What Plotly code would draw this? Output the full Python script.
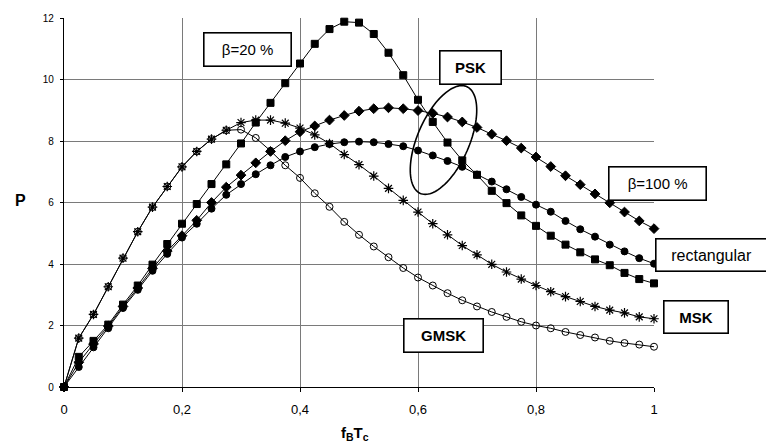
import numpy as np
import plotly.graph_objects as go

# ---------------- data ----------------
x_vals = [round(i * 0.025, 3) for i in range(41)]

psk_beta20 = [0, 0.98, 1.5, 2.03, 2.68, 3.3, 3.98, 4.65, 5.31, 5.95, 6.6, 7.24, 7.92, 8.6,
              9.24, 9.88, 10.52, 11.16, 11.64, 11.88, 11.85, 11.48, 10.87, 10.14, 9.34, 8.62,
              7.95, 7.37, 6.9, 6.38, 5.98, 5.58, 5.24, 4.92, 4.63, 4.38, 4.15, 3.96, 3.71, 3.51, 3.37]

psk_beta100 = [0, 0.8, 1.4, 1.98, 2.62, 3.22, 3.86, 4.42, 4.92, 5.42, 6.0, 6.5, 6.89, 7.29,
               7.66, 8.01, 8.3, 8.49, 8.68, 8.83, 8.97, 9.05, 9.08, 9.05, 8.99, 8.9, 8.78,
               8.62, 8.44, 8.22, 8.01, 7.77, 7.48, 7.17, 6.87, 6.58, 6.28, 5.99, 5.69, 5.4, 5.15]

psk_rect = [0, 0.65, 1.29, 1.91, 2.57, 3.16, 3.78, 4.33, 4.86, 5.31, 5.8, 6.25, 6.6, 6.92,
            7.21, 7.48, 7.66, 7.8, 7.9, 7.96, 7.98, 7.96, 7.9, 7.83, 7.69, 7.53, 7.35, 7.16,
            6.91, 6.68, 6.43, 6.18, 5.93, 5.7, 5.4, 5.13, 4.89, 4.63, 4.41, 4.19, 4.01]

msk = [0, 1.59, 2.36, 3.26, 4.19, 5.05, 5.85, 6.52, 7.16, 7.66, 8.06, 8.35, 8.6, 8.68,
       8.68, 8.58, 8.42, 8.2, 7.92, 7.56, 7.23, 6.86, 6.46, 6.07, 5.69, 5.31, 4.95, 4.6,
       4.3, 3.99, 3.74, 3.51, 3.3, 3.1, 2.94, 2.78, 2.62, 2.5, 2.41, 2.28, 2.22]

gmsk = [0, 1.59, 2.36, 3.26, 4.19, 5.05, 5.85, 6.52, 7.16, 7.66, 8.06, 8.35, 8.37, 8.1,
        7.68, 7.21, 6.8, 6.3, 5.86, 5.37, 4.95, 4.57, 4.22, 3.87, 3.56, 3.3, 3.05, 2.82,
        2.62, 2.44, 2.28, 2.12, 2.0, 1.91, 1.79, 1.69, 1.61, 1.5, 1.43, 1.38, 1.31]

x_tickvals = [0, 0.2, 0.4, 0.6, 0.8, 1]
x_ticktext = ["0", "0,2", "0,4", "0,6", "0,8", "1"]
y_tickvals = [0, 2, 4, 6, 8, 10, 12]

# ---------------- figure ----------------
FONT = "Arial, Liberation Sans, Helvetica, sans-serif"
W, H = 766, 447
ML, MR, MT, MB = 64, 112, 12, 60
PW, PH = W - ML - MR, H - MT - MB

fig = go.Figure()

def add(y, symbol, size, lw=1.0):
    fig.add_trace(go.Scatter(
        x=x_vals, y=y, mode="lines+markers",
        line=dict(color="black", width=1),
        marker=dict(symbol=symbol, size=size, color="black",
                    line=dict(color="black", width=lw)),
        cliponaxis=False, showlegend=False))

add(gmsk, "circle-open", 7, lw=1)
add(msk, "asterisk-open", 8, lw=1.2)
add(psk_rect, "circle", 7)
add(psk_beta100, "diamond", 7.5)
add(psk_beta20, "square", 7)

# ellipse around PSK curves (pixel geometry converted to data coords)
t = np.linspace(0, 2 * np.pi, 120)
cx, cy, a, b, th = 443.5, 136.0, 59.0, 26.0, np.deg2rad(67)
px = cx + a * np.cos(t) * np.cos(th) + b * np.sin(t) * np.sin(th)
py = cy - a * np.cos(t) * np.sin(th) + b * np.sin(t) * np.cos(th)
ex = (px - ML) / PW
ey = (MT + PH - py) / PH * 12
path = "M " + " L ".join(f"{u:.5f},{v:.5f}" for u, v in zip(ex, ey)) + " Z"
fig.add_shape(type="path", path=path, xref="x", yref="y",
              line=dict(color="black", width=1.6))

def box(text, cxp, cyp, w, h, size=15):
    fig.add_annotation(
        x=(cxp - ML) / PW, y=(MT + PH - cyp) / PH, xref="paper", yref="paper",
        text=text, showarrow=False, xanchor="center", yanchor="middle",
        width=w, height=h, align="center", borderpad=0,
        bordercolor="black", borderwidth=1.6, bgcolor="white",
        font=dict(family=FONT, size=size, color="black"))

box("β=20 %", 247.5, 44.5, 86, 32)
box("<b>PSK</b>", 470.5, 62.5, 60, 32)
box("β=100 %", 657.5, 180.5, 96, 32)
box("rectangular", 711, 253, 110, 31, size=16)
box("<b>MSK</b>", 696, 316, 63, 31)
box("<b>GMSK</b>", 443.5, 334.5, 78, 32)

# y-axis title "P" (horizontal)
fig.add_annotation(x=(20 - ML) / PW, y=(MT + PH - 197) / PH, xref="paper", yref="paper",
                   text="<b>P</b>", showarrow=False, xanchor="center", yanchor="middle",
                   font=dict(family=FONT, size=16, color="black"))
# x-axis title
fig.add_annotation(x=(355 - ML) / PW, y=(MT + PH - 434) / PH, xref="paper", yref="paper",
                   text="<b>f<sub>B</sub>T<sub>c</sub></b>", showarrow=False,
                   xanchor="center", yanchor="middle",
                   font=dict(family=FONT, size=15, color="black"))

fig.update_layout(
    width=W, height=H, margin=dict(l=ML, r=MR, t=MT, b=MB),
    paper_bgcolor="white", plot_bgcolor="white",
    font=dict(family=FONT, color="black"),
    xaxis=dict(range=[0, 1], tickvals=x_tickvals, ticktext=x_ticktext,
               showgrid=True, gridcolor="#7a7a7a", gridwidth=1,
               showline=True, linecolor="black", linewidth=1.2,
               ticks="outside", ticklen=4, tickcolor="black",
               ticklabelstandoff=6,
               tickfont=dict(size=13, family=FONT), zeroline=False),
    yaxis=dict(range=[0, 12], tickvals=y_tickvals,
               showgrid=True, gridcolor="#7a7a7a", gridwidth=1,
               showline=True, linecolor="black", linewidth=1.2,
               ticks="outside", ticklen=3, tickcolor="black",
               ticklabelstandoff=4,
               tickfont=dict(size=10, family=FONT), zeroline=False),
)

fig.write_html("out.html")
